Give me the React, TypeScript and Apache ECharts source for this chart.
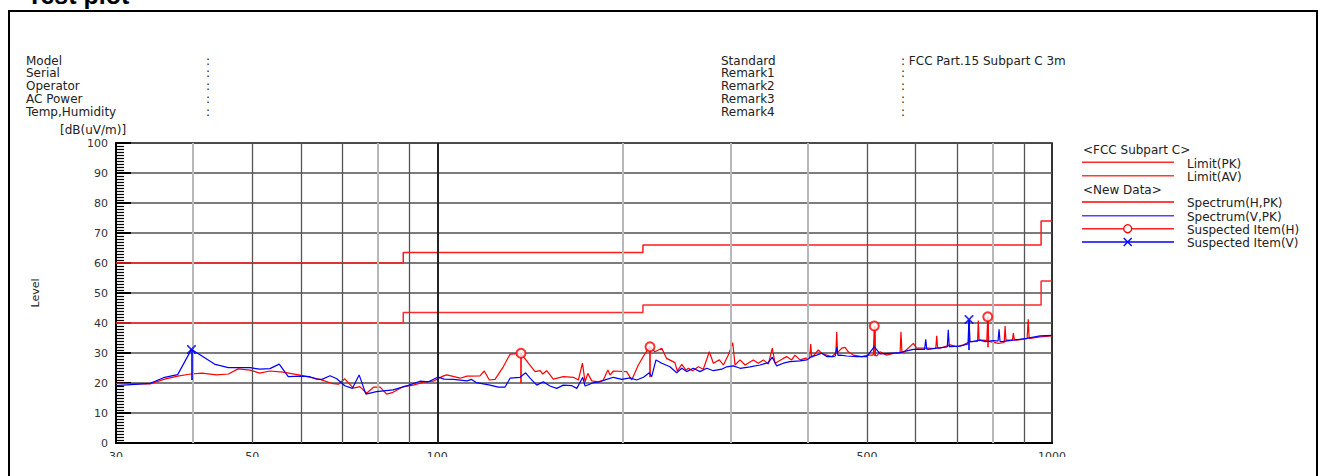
import React, { useEffect, useRef } from 'react';
import * as echarts from 'echarts';

// ---------- data ----------
const labelFreqs = [30, 50, 100, 500, 1000];
const gridFreqsLight = [40, 80, 200, 300, 400, 800];
const gridFreqsDark = [50, 60, 70, 90, 500, 600, 700, 900];
const gridFreqsMajor = [100];

const limitFreqs = [30, 88, 216, 960, 1000];
const limitPK = [60, 63.5, 66, 74, 74];
const limitAV = [40, 43.5, 46, 54, 54];

const spectrumH: [number, number][] = [
  [30, 19.9], [34.1, 19.7], [36.0, 21.3], [37.8, 22.3], [39.7, 23.0], [41.4, 23.3], [43.7, 22.7], [45.7, 23.0],
  [47.4, 24.7], [49.6, 24.3], [51.4, 23.3], [53.4, 24.0], [56.1, 23.6], [59.8, 22.6], [64.4, 21.2], [67.3, 19.9],
  [69.0, 19.6], [70.7, 21.4], [73.0, 18.3], [74.8, 18.8], [76.7, 16.6], [78.7, 18.6], [80.7, 18.6], [82.7, 16.3],
  [84.7, 16.9], [88.0, 18.8], [91.4, 19.3], [94.9, 20.3], [98.4, 20.6], [102.1, 22.3], [103.6, 22.7], [108.9, 21.6],
  [111.7, 22.3], [117.3, 22.4], [119.2, 24.0], [121.5, 21.0], [124.1, 21.2], [128.0, 25.4], [131.3, 29.6], [136.8, 29.9],
  [140.6, 26.6], [144.2, 23.8], [146.9, 24.1], [148.4, 23.0], [150.6, 24.1], [154.4, 21.3], [160.3, 22.1], [166.5, 21.9],
  [169.6, 21.0], [172.2, 26.6], [173.9, 20.4], [175.7, 23.2], [178.3, 20.7], [182.7, 20.4], [186.2, 21.0], [189.4, 24.3],
  [191.0, 22.7], [193.4, 24.0], [203.2, 23.8], [207.1, 21.0], [212.3, 26.0], [217.8, 29.9], [221.8, 32.1], [226.0, 30.4],
  [231.8, 31.6], [236.0, 28.2], [243.5, 26.8], [245.7, 24.0], [249.8, 26.2], [253.8, 24.3], [256.0, 24.9], [260.2, 24.1],
  [265.8, 25.4], [270.8, 24.6], [277.0, 30.4], [281.2, 26.6], [287.6, 27.7], [292.0, 26.0], [297.4, 29.3], [302.4, 33.4],
  [305.0, 26.0], [310.8, 27.7], [316.7, 26.0], [326.6, 27.7], [332.8, 26.6], [339.1, 27.7], [345.5, 26.3], [350.7, 31.6],
  [354.3, 26.6], [365.4, 28.2], [369.9, 28.8], [377.1, 27.7], [381.8, 29.3], [389.0, 27.7], [396.4, 28.2], [403.5, 28.5],
  [405.0, 33.0], [406.5, 28.6], [408.0, 28.8], [416.6, 31.0], [422.0, 29.9], [429.9, 29.3], [438.1, 28.8], [445.0, 30.0],
  [446.4, 37.0], [447.8, 30.2], [449.1, 30.4], [454.9, 31.6], [460.6, 31.9], [466.2, 30.4], [475.1, 29.3], [490.2, 28.8],
  [502.5, 29.3], [512.0, 29.3], [513.9, 39.0], [516.0, 29.2], [518.5, 29.0], [525.0, 30.4], [538.3, 29.3], [551.9, 29.9],
  [566.0, 30.0], [567.9, 37.1], [570.0, 30.1], [572.9, 30.1], [594.8, 33.2], [602.4, 31.6], [625.4, 31.6], [647.0, 31.5],
  [649.3, 35.7], [651.5, 31.6], [657.4, 31.6], [682.5, 32.7], [699.8, 32.1], [717.5, 32.7], [735.6, 33.8], [756.5, 33.9],
  [758.8, 40.8], [761.0, 34.1], [763.7, 34.3], [783.3, 34.2], [786.1, 42.1], [789.0, 33.9], [792.9, 33.8], [817.9, 33.2],
  [836.0, 33.5], [838.9, 39.0], [841.5, 34.2], [844.1, 34.3], [862.0, 34.3], [865.3, 36.6], [868.5, 34.4], [876.3, 34.3],
  [911.0, 34.8], [914.8, 41.2], [918.0, 34.8], [921.1, 34.9], [956.3, 35.4], [1000, 35.7],
];

const spectrumV: [number, number][] = [
  [30, 19.1], [34.1, 19.9], [36.0, 21.9], [37.8, 22.8], [39.8, 31.2], [41.1, 29.4], [43.5, 26.2], [45.7, 25.1],
  [49.6, 25.1], [51.4, 24.6], [53.4, 24.8], [55.3, 26.3], [57.2, 22.1], [59.8, 22.3], [62.0, 22.1], [63.6, 21.3],
  [64.9, 21.2], [66.9, 22.4], [68.6, 21.4], [70.7, 19.1], [72.7, 18.2], [74.6, 22.7], [76.5, 16.3], [79.6, 17.1],
  [84.7, 17.7], [89.7, 19.2], [93.7, 20.6], [96.7, 20.4], [100.3, 22.0], [102.5, 21.3], [106.2, 21.2], [111.7, 20.7],
  [113.7, 21.2], [115.8, 20.1], [118.8, 19.7], [121.8, 19.3], [125.6, 18.6], [128.8, 18.6], [131.3, 21.6], [136.3, 21.9],
  [139.2, 23.4], [141.5, 21.6], [145.1, 19.3], [148.7, 20.4], [152.5, 19.0], [156.4, 18.2], [160.3, 19.3], [165.5, 19.1],
  [168.6, 18.2], [172.4, 21.9], [173.9, 19.0], [179.4, 20.1], [183.9, 20.4], [188.6, 21.2], [193.4, 21.9], [199.5, 21.2],
  [205.8, 21.7], [211.0, 21.0], [216.4, 21.9], [221.2, 23.4], [223.2, 22.1], [226.8, 27.7], [231.8, 26.6], [239.0, 25.4],
  [245.1, 23.4], [249.8, 24.9], [254.5, 23.8], [260.8, 24.9], [267.5, 23.8], [274.3, 24.9], [281.2, 24.1], [290.2, 24.6],
  [295.6, 25.4], [303.0, 25.7], [310.8, 24.9], [322.6, 25.4], [334.9, 26.0], [345.5, 26.8], [350.7, 28.6], [356.5, 25.7],
  [365.4, 26.6], [374.7, 27.1], [389.0, 27.4], [398.9, 27.7], [406.5, 28.8], [414.1, 29.3], [422.0, 29.9], [429.9, 28.8],
  [440.7, 28.8], [444.0, 29.0], [446.4, 31.9], [448.5, 29.2], [452.0, 29.3], [463.5, 29.0], [481.1, 28.8], [499.5, 28.8],
  [513.9, 32.1], [525.0, 29.7], [545.1, 29.9], [565.8, 30.1], [580.2, 30.7], [594.8, 31.2], [620.5, 31.2], [623.1, 34.6],
  [625.5, 31.3], [629.1, 31.2], [649.3, 31.6], [675.5, 32.0], [678.0, 37.7], [680.5, 32.1], [682.5, 32.1], [708.6, 32.3],
  [730.0, 33.0], [732.8, 41.2], [735.5, 33.8], [740.3, 33.8], [763.7, 34.3], [778.2, 33.8], [802.8, 34.1], [817.0, 34.0],
  [820.1, 37.9], [823.0, 33.9], [828.5, 33.8], [865.3, 34.3], [909.8, 34.9], [956.3, 35.7], [1000, 35.9],
];

const suspectHFreq = [136.8, 221.8, 513.9, 786.1];
const suspectHLevel = [29.9, 32.1, 39.0, 42.1];
const suspectHLow = [19.9, 21.9, 29.0, 31.9];

const suspectVFreq = [39.8, 732.8];
const suspectVLevel = [31.2, 41.2];
const suspectVLow = [21.0, 31.0];

const infoLeftLabels = ['Model', 'Serial', 'Operator', 'AC Power', 'Temp,Humidity'];
const infoLeftValues = ['', '', '', '', ''];
const infoRightLabels = ['Standard', 'Remark1', 'Remark2', 'Remark3', 'Remark4'];
const infoRightValues = ['FCC Part.15 Subpart C 3m', '', '', '', ''];

const titleText = 'Test plot';
const yUnitText = '[dB(uV/m)]';
const yNameText = 'Level';

const legendGroups = ['<FCC Subpart C>', '<New Data>'];
const legendLabels = ['Limit(PK)', 'Limit(AV)', 'Spectrum(H,PK)', 'Spectrum(V,PK)', 'Suspected Item(H)', 'Suspected Item(V)'];

// ---------- styles ----------
const RED = '#ff0000';
const BLUE = '#0000ff';
const FONT = 'DejaVu Sans';
const TXT = '#222';
const X_SYMBOL = 'path://M0,0L1.4,0L5,3.6L8.6,0L10,0L10,1.4L6.4,5L10,8.6L10,10L8.6,10L5,6.4L1.4,10L0,10L0,8.6L3.6,5L0,1.4Z';

function txt(text: string, x: number, y: number, extra: any = {}) {
  return {
    type: 'text',
    x,
    y,
    silent: true,
    style: {
      text,
      fill: TXT,
      fontSize: 12,
      fontFamily: FONT,
      align: 'left',
      verticalAlign: 'middle',
      textAlign: 'left',
      textVerticalAlign: 'middle',
      ...extra,
    },
  };
}

export default function App() {
  const ref = useRef<HTMLDivElement>(null);

  useEffect(() => {
    document.body.style.margin = '0';
    if (!ref.current) return;
    const chart = echarts.init(ref.current, null, { renderer: 'svg' });

    const graphics: any[] = [];
    // frame
    graphics.push({
      type: 'rect',
      silent: true,
      shape: { x: 9, y: 11, width: 1308, height: 490 },
      style: { fill: 'none', stroke: '#000', lineWidth: 2 },
    });
    // title
    graphics.push(txt(titleText, 27, -5, { fontSize: 25, fontWeight: 'bold', fontFamily: 'Liberation Sans', fill: '#000' }));
    // info block
    const rowY = [60.5, 73.4, 86.3, 99.2, 112.1];
    infoLeftLabels.forEach((l, i) => {
      graphics.push(txt(l, 26, rowY[i]));
      graphics.push(txt(':' + (infoLeftValues[i] ? ' ' + infoLeftValues[i] : ''), 206, rowY[i]));
    });
    infoRightLabels.forEach((l, i) => {
      graphics.push(txt(l, 721, rowY[i]));
      graphics.push(txt(':' + (infoRightValues[i] ? ' ' + infoRightValues[i] : ''), 901, rowY[i]));
    });
    graphics.push(txt(yUnitText, 60, 129.5));
    graphics.push({
      type: 'text',
      x: 35,
      y: 293,
      rotation: Math.PI / 2,
      silent: true,
      style: {
        text: yNameText, fill: TXT, fontSize: 11, fontFamily: FONT,
        align: 'center', verticalAlign: 'middle', textAlign: 'center', textVerticalAlign: 'middle',
      },
    });
    // legend
    graphics.push(txt(legendGroups[0], 1083, 149.5));
    graphics.push(txt(legendGroups[1], 1083, 190));
    const lineY = [162.3, 175.7, 202, 215.7, 228.7, 242];
    const lineColors = ['#ff2a2a', '#ff3c3c', '#ff0000', '#4848ff', '#ff2020', '#0000ff'];
    legendLabels.forEach((l, i) => {
      graphics.push({
        type: 'line', silent: true,
        shape: { x1: 1082, y1: lineY[i], x2: 1174, y2: lineY[i] },
        style: { stroke: lineColors[i], lineWidth: 1.5 },
      });
      graphics.push(txt(l, 1187, lineY[i] + 1.3));
    });
    graphics.push({
      type: 'circle', silent: true,
      shape: { cx: 1127.7, cy: lineY[4], r: 4 },
      style: { fill: '#fff', stroke: RED, lineWidth: 1.3 },
    });
    graphics.push({
      type: 'line', silent: true,
      shape: { x1: 1123.7, y1: lineY[5] - 4, x2: 1131.7, y2: lineY[5] + 4 },
      style: { stroke: BLUE, lineWidth: 1.3 },
    });
    graphics.push({
      type: 'line', silent: true,
      shape: { x1: 1123.7, y1: lineY[5] + 4, x2: 1131.7, y2: lineY[5] - 4 },
      style: { stroke: BLUE, lineWidth: 1.3 },
    });
    // clip strip at bottom (reference is cut through the x labels)
    graphics.push({
      type: 'rect', silent: true, z: 100,
      shape: { x: 11, y: 457, width: 1304, height: 30 },
      style: { fill: '#fff' },
    });

    const vgrid = [
      ...gridFreqsLight.map((f) => ({ xAxis: f, lineStyle: { color: '#b8b8b8', width: 2, type: 'solid' } })),
      ...gridFreqsDark.map((f) => ({ xAxis: f, lineStyle: { color: '#555', width: 1.3, type: 'solid' } })),
      ...gridFreqsMajor.map((f) => ({ xAxis: f, lineStyle: { color: '#222', width: 2, type: 'solid' } })),
    ];

    const option: any = {
      animation: false,
      backgroundColor: '#fff',
      grid: {
        left: 116, right: 270, top: 143, bottom: 33,
        show: true, borderColor: '#000', borderWidth: 1.6, backgroundColor: 'transparent',
      },
      xAxis: {
        type: 'log',
        logBase: 10,
        min: 30,
        max: 1000,
        axisLine: { show: true, onZero: false, lineStyle: { color: '#000', width: 2 } },
        axisTick: { show: false },
        splitLine: { show: false },
        minorTick: { show: false },
        axisLabel: {
          customValues: labelFreqs,
          formatter: (v: number) => String(Math.round(v)),
          fontSize: 11,
          fontFamily: FONT,
          color: '#333',
          margin: 8,
        },
      },
      yAxis: {
        type: 'value',
        min: 0,
        max: 100,
        interval: 10,
        axisLine: { show: true, lineStyle: { color: '#000', width: 2 } },
        axisTick: { show: true, inside: true, length: 15, lineStyle: { color: '#000', width: 2 } },
        minorTick: { show: true, splitNumber: 10, length: 8, lineStyle: { color: '#000', width: 1.2 } },
        splitLine: { show: true, lineStyle: { color: '#505050', width: 1.5 } },
        axisLabel: { fontSize: 11, fontFamily: FONT, color: '#333', margin: 8 },
      },
      graphic: { elements: graphics },
      series: [
        {
          name: 'vgrid',
          type: 'line',
          data: [],
          z: 1,
          symbol: 'none',
          silent: true,
          markLine: {
            silent: true,
            symbol: ['none', 'none'],
            label: { show: false },
            data: vgrid,
          },
        },
        {
          name: 'Limit(PK)',
          type: 'line',
          step: 'end',
          z: 3,
          symbol: 'none',
          lineStyle: { color: '#ff1a1a', width: 1.5 },
          data: limitFreqs.map((f, i) => [f, limitPK[i]]),
        },
        {
          name: 'Limit(AV)',
          type: 'line',
          step: 'end',
          z: 3,
          symbol: 'none',
          lineStyle: { color: '#ff2a2a', width: 1.5 },
          data: limitFreqs.map((f, i) => [f, limitAV[i]]),
        },
        {
          name: 'Spectrum(H,PK)',
          type: 'line',
          z: 4,
          symbol: 'none',
          lineStyle: { color: RED, width: 1.2 },
          data: spectrumH,
        },
        {
          name: 'Spectrum(V,PK)',
          type: 'line',
          z: 5,
          symbol: 'none',
          lineStyle: { color: BLUE, width: 1.2 },
          data: spectrumV,
        },
        {
          name: 'Suspected Item(H)',
          type: 'scatter',
          z: 6,
          symbol: 'emptyCircle',
          symbolSize: 9,
          itemStyle: { color: RED, borderColor: RED, borderWidth: 1.3 },
          data: suspectHFreq.map((f, i) => [f, suspectHLevel[i]]),
          markLine: {
            silent: true,
            symbol: ['none', 'none'],
            label: { show: false },
            lineStyle: { color: RED, width: 1.6, type: 'solid' },
            data: suspectHFreq.map((f, i) => [{ coord: [f, suspectHLow[i]] }, { coord: [f, suspectHLevel[i]] }]),
          },
        },
        {
          name: 'Suspected Item(V)',
          type: 'scatter',
          z: 6,
          symbol: X_SYMBOL,
          symbolSize: 9,
          itemStyle: { color: BLUE },
          data: suspectVFreq.map((f, i) => [f, suspectVLevel[i]]),
          markLine: {
            silent: true,
            symbol: ['none', 'none'],
            label: { show: false },
            lineStyle: { color: BLUE, width: 1.6, type: 'solid' },
            data: suspectVFreq.map((f, i) => [{ coord: [f, suspectVLow[i]] }, { coord: [f, suspectVLevel[i]] }]),
          },
        },
      ],
    };

    chart.setOption(option);
    return () => chart.dispose();
  }, []);

  return <div ref={ref} style={{ width: 1322, height: 476 }} />;
}
